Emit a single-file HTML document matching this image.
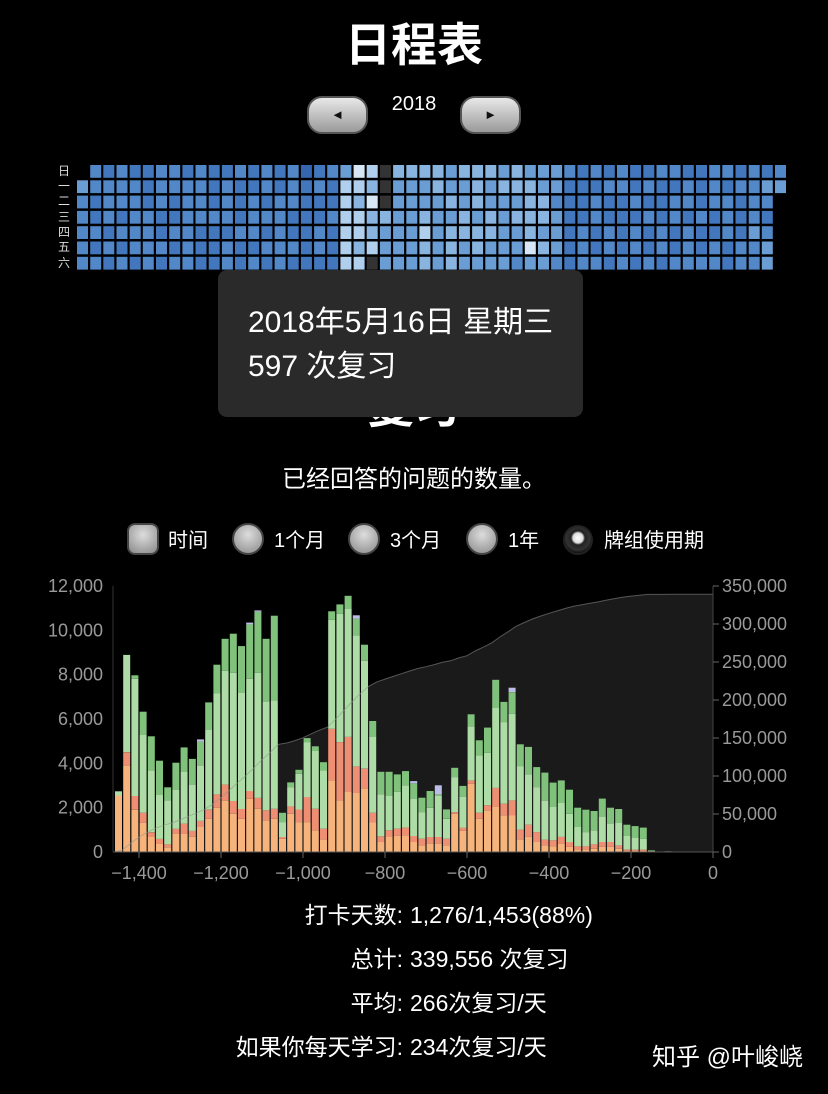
<!DOCTYPE html>
<html><head><meta charset="utf-8">
<style>
*{margin:0;padding:0;box-sizing:border-box}
body{width:828px;height:1094px;background:#000;color:#fff;font-family:"Liberation Sans","Noto Sans CJK SC",sans-serif;position:relative;overflow:hidden}
.abs{position:absolute}
.title{left:0;width:828px;text-align:center;font-size:46px;font-weight:600;line-height:1}
.btn{width:61px;height:38px;border-radius:15px;border:2px solid #555;background:linear-gradient(#e8e8e8,#9a9a9a);color:#111;font-size:13px;text-align:center;line-height:34px}
.lab{font-size:12px;color:#ddd;width:20px;text-align:center;left:54px;line-height:12px}
.opt{font-size:20px;line-height:20px;top:531px}
.rb{width:32px;height:32px;top:523px;border:2px solid #444;background:radial-gradient(circle at 50% 35%,#ddd,#888);border-radius:50%}
.stat{font-size:23px;line-height:28px;white-space:nowrap}
.sl{left:0;width:403px;text-align:right}
.sv{left:410px}
</style></head>
<body>
<div class="abs title" style="top:22px">日程表</div>
<div class="abs btn" style="left:307px;top:96px">◄</div>
<div class="abs" style="left:380px;width:68px;text-align:center;top:93px;font-size:20px">2018</div>
<div class="abs btn" style="left:460px;top:96px">►</div>

<div class="abs lab" style="top:165px">日</div>
<div class="abs lab" style="top:180px">一</div>
<div class="abs lab" style="top:195px">二</div>
<div class="abs lab" style="top:211px">三</div>
<div class="abs lab" style="top:226px">四</div>
<div class="abs lab" style="top:241px">五</div>
<div class="abs lab" style="top:257px">六</div>
<svg id="heat" class="abs" style="left:0;top:0" width="828" height="290"></svg>

<div class="abs title" style="top:384px">复习</div>
<div class="abs" style="left:218px;top:270px;width:365px;height:147px;background:#2a2a2a;border-radius:9px;padding:31px 0 0 30px;font-size:30px;line-height:44px;white-space:nowrap">
<div>2018年5月16日 星期三</div>
<div>597 次复习</div>
</div>
<div class="abs" style="left:0;width:828px;text-align:center;top:459px;font-size:24px">已经回答的问题的数量。</div>

<div class="abs rb" style="left:127px;border-radius:8px"></div>
<div class="abs opt" style="left:168px">时间</div>
<div class="abs rb" style="left:232px"></div>
<div class="abs opt" style="left:274px">1个月</div>
<div class="abs rb" style="left:348px"></div>
<div class="abs opt" style="left:390px">3个月</div>
<div class="abs rb" style="left:466px"></div>
<div class="abs opt" style="left:508px">1年</div>
<div class="abs rb" style="left:563px;width:30px;height:30px;top:525px;background:radial-gradient(circle at 50% 42%,#fff 0,#ddd 5px,#222 7px,#333 12px,#111 15px);border-color:#222"></div>
<div class="abs opt" style="left:604px">牌组使用期</div>

<svg id="chart" class="abs" style="left:0;top:570px" width="828" height="320"></svg>

<div class="abs stat sl" style="top:901px">打卡天数:</div>
<div class="abs stat sv" style="top:901px">1,276/1,453(88%)</div>
<div class="abs stat sl" style="top:945px">总计:</div>
<div class="abs stat sv" style="top:945px">339,556 次复习</div>
<div class="abs stat sl" style="top:989px">平均:</div>
<div class="abs stat sv" style="top:989px">266次复习/天</div>
<div class="abs stat sl" style="top:1033px">如果你每天学习:</div>
<div class="abs stat sv" style="top:1033px">234次复习/天</div>
<div class="abs stat" style="left:652px;top:1044px;font-size:24px">知乎 @叶峻峣</div>

<script>
// ---- heatmap data (levels per weekday row, one char per week column) ----
const heatRows = [
".3232233232232323123476055554555454443232322332233232344",
"433332333323223232326650444544545554422233232232323344",
"32333232332323233222657044445454445532232232233233233.",
"32323322333323332223665544544545455542232223232323232.",
"33233323322233232232665444645555445442323232323223243.",
"32323332322322333232656444545454447542323232323232334.",
"33232323322323232222660444545444434432332323233332334."
];
const heatColors = {"0":"#333333","1":"#3467ae","2":"#4277bd","3":"#5287c8","4":"#6a9dd4","5":"#88b4df","6":"#b0cfec","7":"#d6e6f5"};
const NS="http://www.w3.org/2000/svg";
const heat=document.getElementById('heat');
heatRows.forEach((row,r)=>{
  for(let c=0;c<Math.min(row.length,54);c++){
    const ch=row[c]; if(!heatColors[ch]) continue;
    const e=document.createElementNS(NS,'rect');
    e.setAttribute('x',(77+c*13.17).toFixed(1));
    e.setAttribute('y',(165+r*15.3).toFixed(1));
    e.setAttribute('width',11);
    e.setAttribute('height',12.8);
    e.setAttribute('fill',heatColors[ch]);
    
    
    heat.appendChild(e);
  }
});

// ---- chart data: 20-day bins, day offset of bin start ----
const binStarts = Array.from({length:73},(_,i)=>-1460+20*i);
const totals = [2740,8890,7970,6330,5220,4120,2920,4030,4720,4200,5080,6750,8450,9620,9850,9290,10350,10900,9620,10660,1770,3140,3710,5140,4770,4050,10860,11170,11560,10680,9350,5910,3620,3620,3500,3650,3200,2450,2750,3010,1920,3800,2980,6210,5040,5610,7770,6770,7410,4860,4740,3830,3580,3130,3230,2810,2000,1910,1850,2410,2000,1940,1230,1170,1100,75,0,30,0,0,0,0,0];
const youngTop = [2740,8890,7820,5280,3680,2590,2330,2830,3610,3040,3910,5520,7170,8170,8080,7190,7820,8080,6770,6840,1350,2930,3530,4960,4560,3680,10480,10750,10980,9770,8620,5190,2600,2530,2710,3010,2410,1800,2000,2560,1500,3380,2510,5670,4360,4470,6500,5860,6240,3860,3500,2930,2330,2030,2210,1730,1130,900,980,1580,1280,1310,720,650,600,50,0,20,0,0,0,0,0];
const relearnTop = [2550,4500,2530,1770,890,590,350,1050,1280,950,1400,1910,2600,3040,2300,1940,2750,2440,1880,1950,680,2060,1920,2480,1950,1050,5560,4960,5190,3860,3760,1770,710,980,1050,1100,720,600,680,680,600,1800,1100,3230,1770,2110,2890,2180,2330,1010,1230,900,560,530,680,450,260,260,350,450,450,300,110,110,110,30,0,10,0,0,0,0,0];
const learnTop = [2550,3900,1910,1320,680,380,200,830,830,710,1130,1500,2000,2330,1730,1500,2400,1950,1430,1500,600,1730,1350,1350,980,560,3230,2330,2710,2660,2860,1350,450,680,750,750,450,300,380,380,300,1730,950,3080,1500,1880,2030,1650,1650,560,680,450,300,260,380,230,110,110,150,230,230,150,50,50,50,20,0,5,0,0,0,0,0];
const cramBlue = [0,0,0,0,0,0,0,0,0,0,100,0,0,0,0,0,80,60,0,0,0,0,0,0,0,0,0,0,0,150,0,0,0,0,0,0,100,0,0,400,0,0,0,0,0,0,0,0,200,0,0,0,0,0,0,0,0,0,0,0,0,0,0,0,0,0,0,0,0,0,0,0,0];
const leftTicks = [0,2000,4000,6000,8000,10000,12000];
const rightTicks = [0,50000,100000,150000,200000,250000,300000,350000];
const xTicks = [-1400,-1200,-1000,-800,-600,-400,-200,0];

const svg=document.getElementById('chart');
const X=d=>713+d*0.41;
const Y=v=>282-v*266/12000;
const YR=v=>282-v*266/350000;
function mk(tag,attrs){const e=document.createElementNS(NS,tag);for(const k in attrs)e.setAttribute(k,attrs[k]);svg.appendChild(e);return e;}
const fmt=n=>(n<0?'\u2212':'')+Math.abs(n).toLocaleString('en-US');

// cumulative area
let cum=0; let pts=[[X(binStarts[0]),YR(0)]];
binStarts.forEach((s,i)=>{cum+=totals[i];pts.push([X(s+20),YR(cum)]);});
pts.push([X(0),YR(cum)]);
const area=mk('path',{d:'M'+pts.map(p=>p[0].toFixed(1)+','+p[1].toFixed(1)).join('L')+'L'+X(0)+','+YR(0)+'Z',fill:'#1a1a1a'});



// bars
const segColors=['#f6b37c','#ee8f74','#aedca6','#80c27c','#bcbce8'];
binStarts.forEach((s,i)=>{
  const bounds=[0,learnTop[i],relearnTop[i],youngTop[i],totals[i]-cramBlue[i],totals[i]];
  const x=X(s)+0.6;
  for(let k=0;k<5;k++){
    const h=Y(bounds[k])-Y(bounds[k+1]);
    if(h<=0) continue;
    const r=mk('rect',{x:x.toFixed(1),y:Y(bounds[k+1]).toFixed(1),width:7,height:h.toFixed(1),fill:segColors[k]});
    
    
  }
});
const line=mk('path',{d:'M'+pts.slice(0,-1).map(p=>p[0].toFixed(1)+','+p[1].toFixed(1)).join('L'),fill:'none',stroke:'rgba(140,150,140,0.55)','stroke-width':1});



// axes
const ax=mk('line',{x1:113,x2:713,y1:282,y2:282,stroke:'#555'});


const ay=mk('line',{x1:113,x2:113,y1:16,y2:282,stroke:'#333'});


const ayr=mk('line',{x1:713,x2:713,y1:16,y2:282,stroke:'#444'});


leftTicks.forEach(v=>{
  const t=mk('text',{x:103,y:Y(v)+6,'text-anchor':'end',fill:'#9a9a9a','font-size':18,'font-family':'Liberation Sans, sans-serif'});
  t.textContent=fmt(v);
  
  
});
rightTicks.forEach(v=>{
  mk('line',{x1:713,x2:719,y1:YR(v),y2:YR(v),stroke:'#666'});
  const t=mk('text',{x:722,y:YR(v)+6,fill:'#9a9a9a','font-size':18,'font-family':'Liberation Sans, sans-serif'});
  t.textContent=fmt(v);
  
  
});
xTicks.forEach(v=>{
  mk('line',{x1:X(v),x2:X(v),y1:282,y2:288,stroke:'#666'});
  const t=mk('text',{x:X(v),y:309,'text-anchor':'middle',fill:'#9a9a9a','font-size':18,'font-family':'Liberation Sans, sans-serif'});
  t.textContent=fmt(v);
  
  
});
</script>
</body></html>
